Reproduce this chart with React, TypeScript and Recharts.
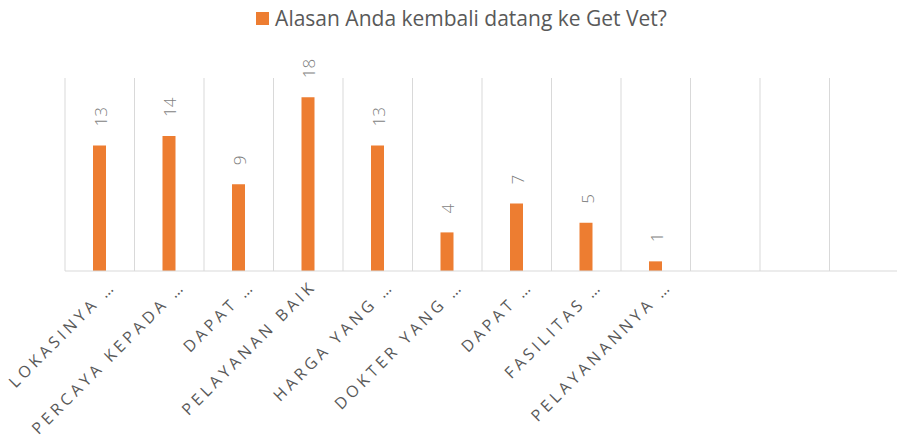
import { BarChart, Bar, XAxis, YAxis, CartesianGrid, Legend, LabelList } from 'recharts';

const categories = [
  'LOKASINYA …',
  'PERCAYA KEPADA …',
  'DAPAT …',
  'PELAYANAN BAIK',
  'HARGA YANG …',
  'DOKTER YANG …',
  'DAPAT …',
  'FASILITAS …',
  'PELAYANANNYA …',
  '',
  '',
  '',
];
const counts = [13, 14, 9, 18, 13, 4, 7, 5, 1, null, null, null];
const seriesName = 'Alasan Anda kembali datang ke Get Vet?';

const data = categories.map((name, i) => ({ name, idx: i, value: counts[i] }));

const TEXT = '#595959';
const LABEL = '#7f7f7f';
const GRID = '#d9d9d9';
const ORANGE = '#ED7D31';
const FONT = '"Open Sans", sans-serif';

const CategoryTick = (props: any) => {
  const { x, y, payload } = props;
  const label = categories[payload.value] ?? '';
  // labels ending in an ellipsis sit a bit further right in the original
  const ax = x + (label.endsWith('…') ? 13 : 5);
  const ay = y + 4;
  return (
    <text
      x={ax}
      y={ay}
      transform={`rotate(-45 ${ax} ${ay})`}
      textAnchor="end"
      dominantBaseline="central"
      fill={TEXT}
      fontSize={16}
      fontFamily={FONT}
      letterSpacing={3.8}
    >
      {label}
    </text>
  );
};

const ValueLabel = (props: any) => {
  const { x, y, width, value } = props;
  if (value == null) return null;
  const cx = x + width / 2 + 1;
  const ty = y - 19;
  return (
    <text
      x={cx}
      y={ty}
      transform={`rotate(-90 ${cx} ${ty})`}
      textAnchor="start"
      dominantBaseline="central"
      fill={LABEL}
      fontSize={17}
      fontFamily={FONT}
      fontWeight={300}
    >
      {value}
    </text>
  );
};

const LegendContent = () => (
  <div style={{ display: 'flex', justifyContent: 'center', alignItems: 'center', fontFamily: FONT, paddingLeft: 26 }}>
    <span style={{ width: 13, height: 13, background: ORANGE, marginRight: 6, display: 'inline-block' }} />
    <span style={{ fontSize: 21, color: TEXT }}>{seriesName}</span>
  </div>
);

const App = () => {
  return (
    <div style={{ position: 'absolute', left: 0, top: 0, width: 897, height: 443, overflow: 'hidden', background: '#fff' }}>
      <BarChart
        width={899}
        height={443}
        data={data}
        margin={{ top: 52, right: 0, left: 65, bottom: 22 }}
      >
        <CartesianGrid
          horizontal={false}
          stroke={GRID}
          verticalCoordinatesGenerator={({ offset }: any) =>
            Array.from({ length: categories.length + 1 }, (_, i) => offset.left + (i * offset.width) / categories.length)
          }
        />
        <XAxis
          dataKey="idx"
          type="category"
          interval={0}
          height={150}
          tickLine={false}
          axisLine={{ stroke: GRID }}
          tick={<CategoryTick />}
        />
        <YAxis hide domain={[0, 20]} />
        <Legend
          verticalAlign="top"
          align="center"
          content={<LegendContent />}
          wrapperStyle={{ top: 4, left: 0, width: 897, height: 26 }}
        />
        <Bar dataKey="value" name={seriesName} fill={ORANGE} barSize={13} isAnimationActive={false}>
          <LabelList dataKey="value" content={<ValueLabel />} />
        </Bar>
      </BarChart>
    </div>
  );
};

export default App;
